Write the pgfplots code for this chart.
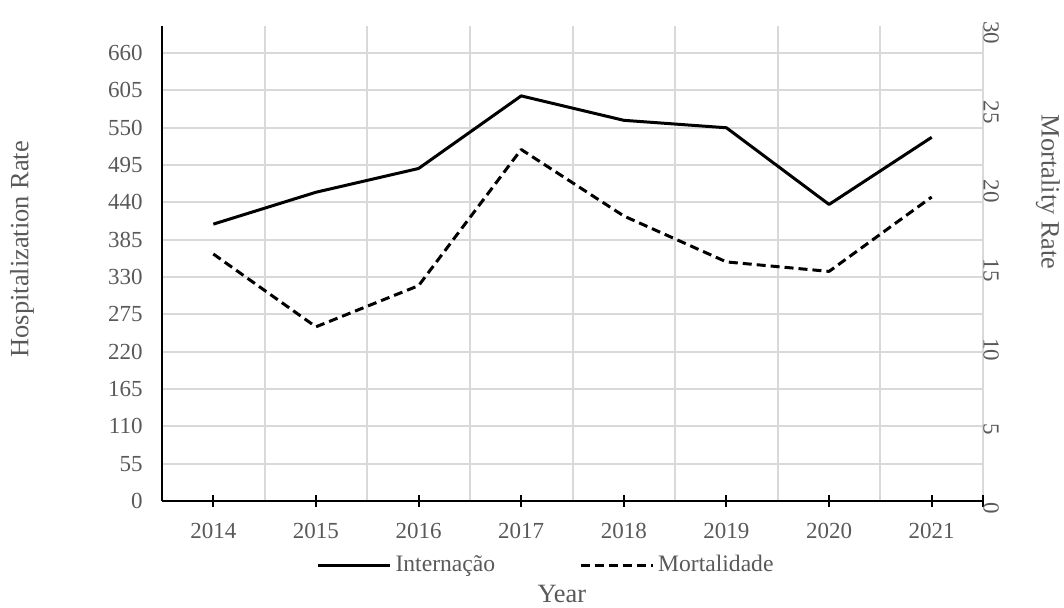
\documentclass[border=0pt]{standalone}
\usepackage{fontspec}
\setmainfont{Liberation Serif}
\usepackage{pgfplots}
\pgfplotsset{compat=1.18}
\definecolor{txtgray}{HTML}{595959}
\definecolor{gridgray}{HTML}{D9D9D9}

\begin{document}
\begin{tikzpicture}
\pgfplotsset{
  every axis/.append style={
    scale only axis, width=410.5pt, height=237.5pt,
    xmin=-0.5, xmax=7.5,
    /pgf/number format/assume math mode=true,
    tick label style={font=\fontsize{11.5}{13}\selectfont, text=txtgray},
  }
}
% left axis: hospitalization
\begin{axis}[
  ymin=0, ymax=700,
  axis x line*=bottom, axis y line*=left,
  axis line style={black, line width=1pt, -},
  ytick={0,55,...,660},
  xtick={0,...,7},
  xticklabels={2014,2015,2016,2017,2018,2019,2020,2021},
  extra x ticks={7.5}, extra x tick labels={},
  minor xtick={-0.5,0.5,...,7.5},
  xminorgrids, ymajorgrids,
  major grid style={gridgray, line width=1pt},
  minor grid style={gridgray, line width=1pt},
  minor tick length=0pt,
  major tick length=6pt, tick align=center,
  xtick style={black, line width=1pt},
  ytick style={draw=none},
  yticklabel style={anchor=east, inner sep=0pt, xshift=-6.5pt},
  xticklabel style={anchor=north, inner sep=0pt, yshift=-8pt},
  xlabel={Year},
  every axis x label/.style={at={(axis description cs:0.487,-0.196)}, anchor=center,
    font=\fontsize{13.2}{15}\selectfont, text=txtgray, inner sep=1pt},
  ylabel={Hospitalization Rate},
  every axis y label/.style={at={(axis description cs:-0.1705,0.53)}, rotate=90, anchor=center,
    font=\fontsize{13.2}{15}\selectfont, text=txtgray},
]
\addplot[black, line width=1.5pt, line join=round] coordinates {
  (0,408) (1,455) (2,490) (3,597) (4,561) (5,550) (6,437) (7,536)
};
\end{axis}
% right axis: mortality
\begin{axis}[
  ymin=0, ymax=30,
  axis x line=none, axis y line*=right,
  axis line style={draw=none},
  ytick={0,5,...,30},
  ytick style={draw=none},
  major tick length=0pt,
  yticklabel style={rotate=-90, anchor=south, inner sep=0pt, xshift=3.5pt},
  ylabel={Mortality Rate},
  every axis y label/.style={at={(axis description cs:1.079,0.65)}, rotate=-90, anchor=center,
    font=\fontsize{13.2}{15}\selectfont, text=txtgray},
  legend style={at={(axis description cs:0.469,-0.135)}, anchor=center,
    draw=none, fill=none, legend columns=2,
    font=\fontsize{11.8}{13}\selectfont, text=txtgray,
    /tikz/every even column/.append style={column sep=40pt}},
  legend image code/.code={\draw[#1] (0pt,0pt) -- (36pt,0pt);},
]
\addlegendimage{black, line width=1.5pt}
\addlegendentry{Internação}
\addplot[black, line width=1.5pt, line join=round, dash pattern=on 4.5pt off 2.5pt] coordinates {
  (0,15.6) (1,11.0) (2,13.6) (3,22.2) (4,18.0) (5,15.1) (6,14.5) (7,19.2)
};
\addlegendentry{Mortalidade}
\end{axis}
\pgfresetboundingbox
\path (-81pt,-53.5pt) rectangle (451pt,250.5pt);
\end{tikzpicture}
\end{document}
